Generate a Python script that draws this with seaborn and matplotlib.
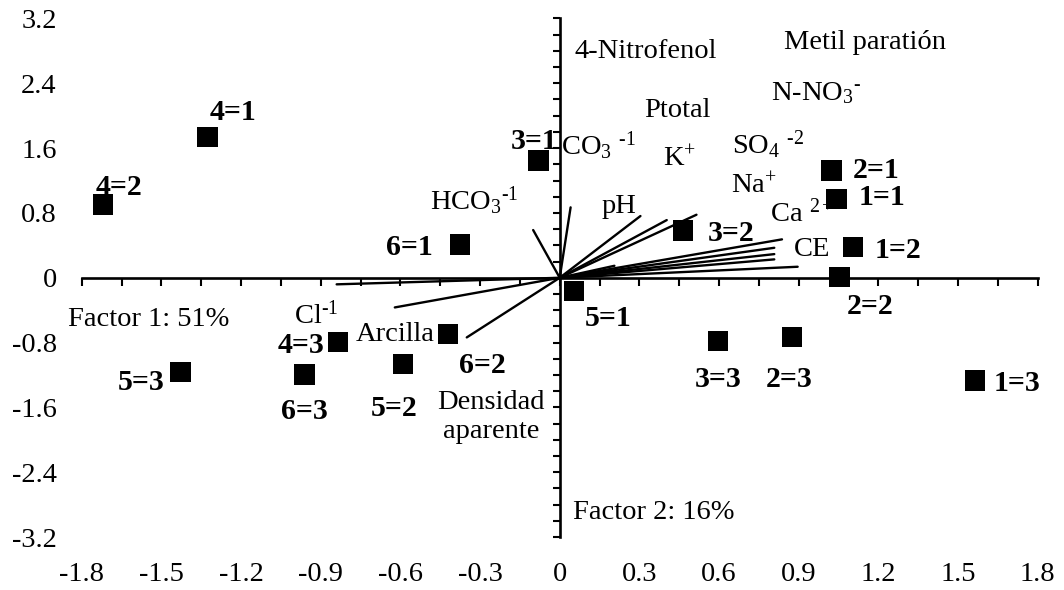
import numpy as np
import pandas as pd
import matplotlib
matplotlib.use("Agg")
import matplotlib.pyplot as plt
import seaborn as sns
from matplotlib.ticker import MultipleLocator, FixedLocator, FixedFormatter

# Sample scores on the first two factors
obs_labels = ["1=1", "1=2", "1=3", "2=1", "2=2", "2=3", "3=1", "3=2", "3=3",
              "4=1", "4=2", "4=3", "5=1", "5=2", "5=3", "6=1", "6=2", "6=3"]
factor1 = [1.042, 1.105, 1.564, 1.024, 1.053, 0.874, -0.080, 0.465, 0.597,
           -1.327, -1.720, -0.836, 0.053, -0.589, -1.428, -0.376, -0.420, -0.961]
factor2 = [0.975, 0.379, -1.267, 1.326, 0.010, -0.732, 1.449, 0.585, -0.781,
           1.741, 0.906, -0.794, -0.160, -1.062, -1.164, 0.410, -0.691, -1.193]

# Variable loadings (vector tips from the origin)
load_f1 = [-0.100, 0.041, 0.304, 0.403, 0.515, 0.206,
           0.837, 0.808, 0.808, 0.808, 0.896,
           -0.840, -0.621, -0.350]
load_f2 = [0.589, 0.869, 0.762, 0.712, 0.778, 0.148,
           0.474, 0.370, 0.292, 0.227, 0.136,
           -0.081, -0.366, -0.736]

# Variable names (a true hyphen is used in the charges)
HY = "\u2010"
var_names = ["4-Nitrofenol", "Metil paratión", "Ptotal", "N-NO$_3{}^{" + HY + "}$",
             "CO$_3$ $^{" + HY + "1}$", "K$^{+}$", "SO$_4$ $^{" + HY + "2}$", "Na$^{+}$",
             "HCO$_3{}^{" + HY + "1}$", "pH", "Ca $^{2+}$", "CE", "Cl$^{" + HY + "1}$",
             "Arcilla", "Densidad\naparente"]

# Axis ticks
x_ticks = [-1.8, -1.5, -1.2, -0.9, -0.6, -0.3, 0, 0.3, 0.6, 0.9, 1.2, 1.5, 1.8]
x_tick_labels = ["-1.8", "-1.5", "-1.2", "-0.9", "-0.6", "-0.3", "0",
                 "0.3", "0.6", "0.9", "1.2", "1.5", "1.8"]
y_ticks = [-3.2, -2.4, -1.6, -0.8, 0, 0.8, 1.6, 2.4, 3.2]
y_tick_labels = ["-3.2", "-2.4", "-1.6", "-0.8", "0", "0.8", "1.6", "2.4", "3.2"]

axis_titles = ["Factor 1: 51%", "Factor 2: 16%"]

# ---- layout (label placement) ----
# name anchors: (x, y, horizontal alignment) in data units, baseline aligned
var_anchor = [
    (0.056, 2.714, "left"),
    (0.844, 2.820, "left"),
    (0.319, 1.988, "left"),
    (0.796, 2.193, "left"),
    (0.006, 1.515, "left"),
    (0.388, 1.370, "left"),
    (0.647, 1.536, "left"),
    (0.644, 1.033, "left"),
    (-0.487, 0.835, "left"),
    (0.156, 0.795, "left"),
    (0.790, 0.691, "left"),
    (0.881, 0.267, "left"),
    (-1.000, -0.563, "left"),
    (-0.768, -0.780, "left"),
    (-0.258, -1.983, "center"),
]
title_anchor = [(-1.850, -0.593), (0.050, -2.983)]

# sample label offsets in pixels (dx right, dy up) from each square
obs_offset = {
    "4=1": (26, 27), "4=2": (16, 20), "3=1": (-4, 22), "6=1": (-50, 0),
    "3=2": (48, 0), "5=1": (34, -25), "2=1": (44, 3), "1=1": (46, 4),
    "1=2": (45, 0), "2=2": (31, -27), "5=3": (-39, -7), "4=3": (-37, 0),
    "6=3": (0, -34), "6=2": (34, -29), "5=2": (-9, -42), "3=3": (0, -35),
    "2=3": (-3, -39), "1=3": (42, 0),
}

sns.set_theme(style="white")
plt.rcParams["font.family"] = ["Liberation Serif", "DejaVu Serif"]
plt.rcParams["mathtext.fontset"] = "custom"
plt.rcParams["mathtext.rm"] = "Liberation Serif"
plt.rcParams["mathtext.it"] = "Liberation Serif:italic"
plt.rcParams["mathtext.bf"] = "Liberation Serif:bold"
plt.rcParams["axes.unicode_minus"] = False

FS = 20.5
FS_BOLD = 21.5

fig = plt.figure(figsize=(10.64, 5.90), dpi=100)
rect = [0.0768, 0.0897, 0.8985, 0.8790]

# Axes carrying only the tick labels along the outer edges
ax_lbl = fig.add_axes(rect)
ax_lbl.set_xlim(-1.8, 1.8)
ax_lbl.set_ylim(-3.2, 3.2)
for s in ax_lbl.spines.values():
    s.set_visible(False)
ax_lbl.xaxis.set_major_locator(FixedLocator(x_ticks))
ax_lbl.xaxis.set_major_formatter(FixedFormatter(x_tick_labels))
ax_lbl.yaxis.set_major_locator(FixedLocator(y_ticks))
ax_lbl.yaxis.set_major_formatter(FixedFormatter(y_tick_labels))
ax_lbl.tick_params(axis="both", length=0, labelsize=FS, colors="black")
ax_lbl.tick_params(axis="x", pad=18)
ax_lbl.tick_params(axis="y", pad=18)
ax_lbl.patch.set_visible(False)

# Data axes with the crossing axis lines through the origin
ax = fig.add_axes(rect)
ax.set_zorder(2)
ax.patch.set_visible(False)

scores = pd.DataFrame({"f1": factor1, "f2": factor2, "label": obs_labels})
sns.scatterplot(data=scores, x="f1", y="f2", marker="s", s=215, color="black",
                edgecolor="none", linewidth=0, ax=ax, zorder=3, legend=False)

# Loading vectors: each one a segment from the origin to its tip
n = len(load_f1)
vec = pd.DataFrame({
    "f1": np.ravel(np.column_stack([np.zeros(n), load_f1])),
    "f2": np.ravel(np.column_stack([np.zeros(n), load_f2])),
    "vid": np.repeat(np.arange(n), 2),
})
sns.lineplot(data=vec, x="f1", y="f2", units="vid", estimator=None, sort=False,
             color="black", linewidth=1.7, ax=ax, zorder=4, legend=False)

ax.set_xlabel("")
ax.set_ylabel("")
ax.set_xlim(-1.8, 1.8)
ax.set_ylim(-3.2, 3.2)
ax.spines["left"].set_position(("data", 0))
ax.spines["bottom"].set_position(("data", 0))
ax.spines["right"].set_visible(False)
ax.spines["top"].set_visible(False)
for s in ("left", "bottom"):
    ax.spines[s].set_linewidth(1.9)
    ax.spines[s].set_color("black")
ax.xaxis.set_major_locator(MultipleLocator(0.15))
ax.yaxis.set_major_locator(MultipleLocator(0.2))
ax.tick_params(axis="x", direction="out", length=6, width=1.5, colors="black",
               labelbottom=False, bottom=True)
ax.tick_params(axis="y", direction="out", length=5, width=1.5, colors="black",
               labelleft=False, left=True)

for name, (x, y, ha) in zip(var_names, var_anchor):
    ax.text(x, y, name, fontsize=FS, ha=ha, va="baseline", color="black",
            linespacing=1.25, zorder=5)

for title, (x, y) in zip(axis_titles, title_anchor):
    ax.text(x, y, title, fontsize=FS, ha="left", va="baseline", color="black",
            zorder=5)

for lab, x, y in zip(obs_labels, factor1, factor2):
    dx, dy = obs_offset[lab]
    ax.annotate(lab, (x, y), xytext=(dx, dy), textcoords="offset pixels",
                ha="center", va="center_baseline", fontsize=FS_BOLD,
                fontweight="bold", color="black", zorder=6)

fig.savefig("out.png", dpi=100)
